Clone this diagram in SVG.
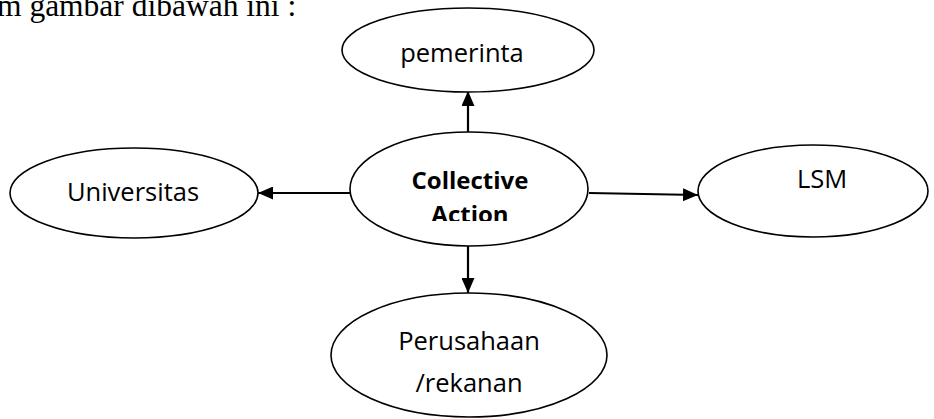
<svg xmlns="http://www.w3.org/2000/svg" width="934" height="419" viewBox="0 0 934 419">
<style>
.node{fill:#fff;stroke:#000;stroke-width:1.6}
.lbl{font-family:"Open Sans",sans-serif;font-size:25.5px;fill:#000;text-anchor:middle}
.bold{font-weight:bold;font-size:24px}
.conn line{stroke:#000;stroke-width:2.2}
.cap{font-family:"Liberation Serif",serif;font-size:31.5px;fill:#000}
</style>
<defs>
<marker id="ah" markerUnits="userSpaceOnUse" markerWidth="15" markerHeight="13" refX="15" refY="6.5" orient="auto">
<path d="M0,0 L15,6.5 L0,13 z" fill="#000"/>
</marker>
<clipPath id="cl"><rect x="340" y="130" width="260" height="91"/></clipPath>
</defs>
<text class="cap" x="-3" y="16">m gambar dibawah ini :</text>
<g class="conn">
<line x1="468" y1="132" x2="468" y2="91" marker-end="url(#ah)"/>
<line x1="350" y1="193" x2="258" y2="193" marker-end="url(#ah)"/>
<line x1="589" y1="193" x2="698" y2="195" marker-end="url(#ah)"/>
<line x1="468" y1="246" x2="468" y2="293" marker-end="url(#ah)"/>
</g>
<g id="pemerinta">
<ellipse class="node" cx="468" cy="50" rx="126" ry="42"/>
<text class="lbl" x="462" y="62">pemerinta</text>
</g>
<g id="collective">
<ellipse class="node" cx="469" cy="189" rx="119" ry="57"/>
<g clip-path="url(#cl)">
<text class="lbl bold" x="470" y="189">Collective</text>
<text class="lbl bold" x="470" y="223">Action</text>
</g>
</g>
<g id="universitas">
<ellipse class="node" cx="134" cy="193" rx="124" ry="45"/>
<text class="lbl" x="133" y="201">Universitas</text>
</g>
<g id="lsm">
<ellipse class="node" cx="813" cy="191" rx="115" ry="46"/>
<text class="lbl" x="822" y="188">LSM</text>
</g>
<g id="perusahaan">
<ellipse class="node" cx="469" cy="355" rx="138" ry="62"/>
<text class="lbl" x="469" y="350">Perusahaan</text>
<text class="lbl" x="469" y="392">/rekanan</text>
</g>
</svg>
